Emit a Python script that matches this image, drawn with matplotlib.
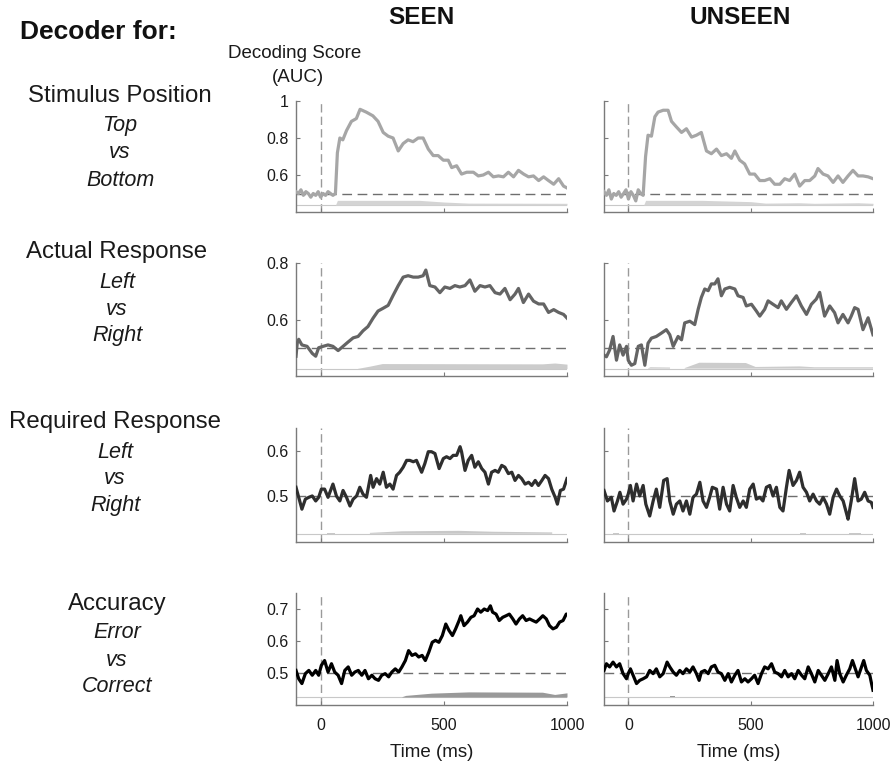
import numpy as np
import matplotlib
matplotlib.use("Agg")
import matplotlib.pyplot as plt

plt.rcParams['font.family'] = ['Liberation Sans', 'DejaVu Sans']

# ---------------- data ----------------
stim_seen_t = [-100,-90,-80,-70,-60,-50,-40,-30,-20,-10,0,10,20,30,40,50,60,68,78,
               90,105,125,145,160,185,212,233,254,274,294,315,335,355,375,396,416,437,457,477,498,518,532,552,572,593,620,640,660,681,701,722,742,762,783,803,824,844,864,885,905,925,946,966,986,1000]
stim_seen_auc = [0.51,0.50,0.52,0.49,0.51,0.50,0.48,0.50,0.49,0.51,0.48,0.50,0.49,0.51,0.50,0.49,0.50,0.72,0.80,
                 0.79,0.84,0.89,0.905,0.955,0.94,0.92,0.89,0.83,0.81,0.80,0.73,0.77,0.79,0.78,0.80,0.80,0.74,0.705,0.705,0.68,0.68,0.64,0.65,0.605,0.615,0.615,0.595,0.60,0.615,0.59,0.595,0.59,0.615,0.59,0.625,0.605,0.59,0.595,0.57,0.59,0.57,0.55,0.58,0.54,0.53]

stim_unseen_t = [-100,-90,-80,-70,-60,-50,-40,-30,-20,-10,0,10,20,30,40,50,60,
                 70,80,94,108,121,142,162,176,196,217,237,258,278,298,319,339,360,380,401,421,435,455,475,496,516,537,557,578,598,619,639,659,680,700,721,741,762,775,796,816,837,857,877,898,918,939,959,980,1000]
stim_unseen_auc = [0.51,0.49,0.52,0.47,0.50,0.49,0.51,0.48,0.50,0.52,0.47,0.51,0.49,0.46,0.52,0.50,0.49,
                   0.70,0.815,0.81,0.915,0.94,0.95,0.95,0.89,0.86,0.83,0.85,0.805,0.815,0.83,0.73,0.715,0.74,0.705,0.715,0.69,0.73,0.68,0.66,0.605,0.605,0.57,0.57,0.58,0.55,0.55,0.58,0.57,0.605,0.54,0.57,0.57,0.595,0.635,0.605,0.595,0.56,0.595,0.56,0.595,0.625,0.595,0.595,0.59,0.58]

actual_seen_t = [-100,-95,-89,-76,-55,-34,-20,-8,10,30,50,71,91,111,132,152,172,192,213,233,254,274,294,315,335,355,376,396,416,427,443,464,484,504,525,545,565,586,606,626,647,667,687,708,728,748,769,789,803,823,844,864,885,905,925,946,966,986,1000]
actual_seen_auc = [0.47,0.516,0.53,0.51,0.505,0.48,0.47,0.50,0.505,0.51,0.505,0.49,0.505,0.52,0.535,0.54,0.56,0.575,0.605,0.63,0.64,0.65,0.685,0.72,0.75,0.755,0.75,0.75,0.755,0.775,0.72,0.715,0.695,0.715,0.71,0.72,0.715,0.72,0.74,0.70,0.72,0.715,0.72,0.695,0.69,0.71,0.67,0.69,0.71,0.66,0.69,0.665,0.655,0.655,0.625,0.635,0.625,0.618,0.605]

actual_unseen_t = [-100,-90,-77,-63,-49,-36,-22,-8,-1,12,26,40,53,67,80,94,114,135,155,169,183,203,217,230,251,271,285,298,312,326,339,353,366,380,394,414,435,448,469,482,503,523,537,557,571,591,612,625,646,666,687,707,728,748,768,782,802,823,843,857,877,898,911,925,939,959,980,1000]
actual_unseen_auc = [0.474,0.468,0.492,0.54,0.456,0.51,0.474,0.505,0.456,0.438,0.444,0.505,0.51,0.438,0.516,0.534,0.54,0.552,0.564,0.546,0.505,0.54,0.528,0.588,0.594,0.582,0.636,0.678,0.708,0.702,0.726,0.726,0.744,0.684,0.708,0.714,0.708,0.684,0.678,0.648,0.654,0.63,0.612,0.636,0.666,0.654,0.642,0.666,0.636,0.66,0.684,0.648,0.618,0.654,0.672,0.696,0.612,0.648,0.624,0.588,0.618,0.588,0.612,0.642,0.636,0.564,0.606,0.546]

required_seen_t = [-100,-89,-76,-62,-48,-34,-20,-8,3,16,30,50,64,78,91,105,119,132,146,159,172,186,203,213,227,240,254,267,281,294,308,321,335,349,362,376,389,410,423,437,450,464,481,498,511,525,538,552,566,572,586,599,613,626,640,654,667,681,694,708,721,735,748,762,776,789,803,816,830,844,857,871,884,898,911,925,938,952,961,973,986,1000]
required_seen_auc = [0.52,0.498,0.472,0.494,0.498,0.501,0.49,0.498,0.516,0.516,0.498,0.527,0.501,0.49,0.513,0.498,0.479,0.494,0.501,0.52,0.505,0.498,0.546,0.52,0.539,0.527,0.553,0.52,0.527,0.516,0.546,0.553,0.564,0.579,0.579,0.576,0.579,0.553,0.572,0.598,0.598,0.594,0.561,0.583,0.587,0.583,0.59,0.59,0.609,0.598,0.557,0.579,0.59,0.564,0.576,0.561,0.553,0.527,0.553,0.557,0.553,0.568,0.564,0.55,0.553,0.535,0.546,0.539,0.527,0.531,0.524,0.535,0.524,0.535,0.546,0.539,0.516,0.498,0.483,0.513,0.516,0.539]

required_unseen_t = [-100,-86,-70,-59,-45,-35,-22,-8,-1,8,19,33,46,60,71,87,101,114,128,144,158,169,183,196,210,223,237,251,264,278,292,305,319,332,343,360,373,387,401,414,428,441,455,469,482,496,510,523,537,550,564,578,591,605,619,632,646,657,673,687,700,714,728,741,755,769,782,796,810,823,837,851,864,878,891,898,911,925,939,952,966,980,993,1000]
required_unseen_auc = [0.513,0.49,0.498,0.468,0.49,0.509,0.483,0.494,0.505,0.524,0.49,0.527,0.501,0.524,0.483,0.457,0.49,0.516,0.476,0.535,0.539,0.49,0.461,0.483,0.49,0.468,0.49,0.461,0.498,0.505,0.531,0.49,0.476,0.498,0.52,0.516,0.472,0.52,0.483,0.468,0.524,0.498,0.476,0.49,0.476,0.516,0.527,0.494,0.498,0.49,0.52,0.524,0.501,0.52,0.476,0.468,0.52,0.557,0.524,0.535,0.553,0.52,0.509,0.49,0.505,0.49,0.483,0.498,0.483,0.461,0.498,0.516,0.501,0.49,0.464,0.45,0.49,0.539,0.49,0.494,0.509,0.49,0.487,0.476]

accuracy_seen_t = [-100,-89,-76,-62,-48,-34,-20,-8,3,16,30,44,57,71,85,98,112,126,139,153,167,180,194,208,221,235,248,262,276,289,303,317,330,344,357,371,385,398,412,425,439,453,466,480,494,508,521,535,548,562,569,582,596,610,623,637,650,664,678,689,698,712,725,739,753,766,780,793,807,820,834,848,861,875,889,902,916,929,943,957,970,984,997,1000]
accuracy_seen_auc = [0.508,0.482,0.467,0.498,0.508,0.493,0.508,0.493,0.524,0.539,0.503,0.529,0.503,0.493,0.467,0.508,0.519,0.493,0.503,0.508,0.493,0.508,0.482,0.493,0.482,0.477,0.493,0.498,0.488,0.503,0.513,0.503,0.519,0.539,0.57,0.555,0.56,0.55,0.555,0.539,0.565,0.596,0.602,0.596,0.617,0.653,0.633,0.617,0.638,0.664,0.679,0.648,0.659,0.674,0.679,0.70,0.69,0.70,0.695,0.71,0.69,0.684,0.664,0.674,0.679,0.684,0.669,0.653,0.669,0.679,0.664,0.669,0.664,0.659,0.669,0.679,0.669,0.648,0.638,0.643,0.659,0.664,0.684,0.684]

accuracy_unseen_t = [-100,-90,-77,-63,-49,-36,-22,-8,-1,8,19,33,46,60,74,87,101,114,128,142,158,169,183,196,210,223,237,251,264,278,289,298,312,326,339,353,366,380,394,408,421,435,448,462,476,489,503,516,530,544,557,571,585,598,612,626,639,653,667,680,694,708,721,735,748,762,776,789,803,817,830,844,853,864,878,891,905,916,925,939,953,962,973,987,994,1000]
accuracy_unseen_auc = [0.508,0.529,0.519,0.534,0.519,0.529,0.498,0.482,0.498,0.513,0.493,0.467,0.477,0.482,0.488,0.508,0.498,0.513,0.488,0.498,0.534,0.519,0.503,0.493,0.508,0.498,0.513,0.503,0.519,0.498,0.477,0.503,0.508,0.498,0.519,0.524,0.503,0.498,0.477,0.498,0.472,0.493,0.508,0.472,0.482,0.472,0.482,0.493,0.467,0.498,0.519,0.513,0.529,0.503,0.498,0.488,0.508,0.488,0.498,0.482,0.508,0.493,0.482,0.519,0.498,0.472,0.508,0.493,0.477,0.498,0.519,0.477,0.539,0.498,0.472,0.493,0.513,0.539,0.519,0.488,0.519,0.539,0.508,0.493,0.467,0.446]

nan = float('nan')
# significance bands: baseline and top of band
sig_base = [0.437, 0.426, 0.418, 0.425]
stim_seen_sig_t = [60, 68, 400, 500, 600, 1000]
stim_seen_sig = [0.437, 0.463, 0.463, 0.454, 0.448, 0.447]
stim_unseen_sig_t = [62, 70, 300, 500, 560, 700, 760, 940, 1000]
stim_unseen_sig = [0.437, 0.463, 0.463, 0.456, 0.448, 0.450, 0.447, 0.450, 0.447]
actual_seen_sig_t = [150, 200, 250, 900, 950, 1000]
actual_seen_sig = [0.427, 0.435, 0.444, 0.443, 0.446, 0.442]
actual_unseen_sig_t = [80, 90, 170, 180, 220, 230, 290, 480, 520, 700, 760, 1000]
actual_unseen_sig = [0.427, 0.431, 0.430, nan, nan, 0.428, 0.447, 0.446, 0.432, 0.434, 0.431, 0.431]
required_seen_sig_t = [25, 60, 65, 195, 200, 330, 560, 700, 940]
required_seen_sig = [0.4205, 0.4205, nan, nan, 0.420, 0.4235, 0.4245, 0.4225, 0.421]
required_unseen_sig_t = [-65, -40, -35, 695, 700, 725, 730, 895, 900, 950]
required_unseen_sig = [0.4205, 0.4205, nan, nan, 0.4205, 0.4205, nan, nan, 0.4205, 0.4205]
accuracy_seen_sig_t = [330, 345, 450, 600, 900, 950, 1000]
accuracy_seen_sig = [0.426, 0.430, 0.437, 0.441, 0.440, 0.433, 0.438]
accuracy_unseen_sig_t = [170, 190]
accuracy_unseen_sig = [0.4275, 0.4275]

row_titles = ["Stimulus Position", "Actual Response", "Required Response", "Accuracy"]
row_contrasts = [("Top", "vs", "Bottom"), ("Left", "vs", "Right"),
                 ("Left", "vs", "Right"), ("Error", "vs", "Correct")]
row_ylims = [(0.4, 1.0), (0.4, 0.8), (0.4, 0.65), (0.4, 0.75)]
row_yticks = [[0.6, 0.8, 1.0], [0.6, 0.8], [0.5, 0.6], [0.5, 0.6, 0.7]]
row_yticklabels = [["0.6", "0.8", "1"], ["0.6", "0.8"], ["0.5", "0.6"], ["0.5", "0.6", "0.7"]]
x_ticks = [0, 500, 1000]

series = [
    [(stim_seen_t, stim_seen_auc, stim_seen_sig_t, stim_seen_sig),
     (stim_unseen_t, stim_unseen_auc, stim_unseen_sig_t, stim_unseen_sig)],
    [(actual_seen_t, actual_seen_auc, actual_seen_sig_t, actual_seen_sig),
     (actual_unseen_t, actual_unseen_auc, actual_unseen_sig_t, actual_unseen_sig)],
    [(required_seen_t, required_seen_auc, required_seen_sig_t, required_seen_sig),
     (required_unseen_t, required_unseen_auc, required_unseen_sig_t, required_unseen_sig)],
    [(accuracy_seen_t, accuracy_seen_auc, accuracy_seen_sig_t, accuracy_seen_sig),
     (accuracy_unseen_t, accuracy_unseen_auc, accuracy_unseen_sig_t, accuracy_unseen_sig)],
]

# ---------------- style / layout ----------------
W, H = 896, 763
line_colors = ['#a6a6a6', '#646464', '#2e2e2e', '#000000']
fill_colors = ['#d4d4d4', '#cccccc', '#c8c8c8', '#999999']
col_px = [(296, 567), (604, 873)]
row_px = [(101, 212), (263, 376), (428, 542), (593, 705)]
spine_c = '#7a7a7a'

fig = plt.figure(figsize=(W / 100, H / 100), dpi=100)

def fx(px):
    return px / W

def fy(py):
    return 1 - py / H

for r in range(4):
    top, bot = row_px[r]
    for c in range(2):
        l, rr = col_px[c]
        ax = fig.add_axes([fx(l), fy(bot), (rr - l) / W, (bot - top) / H])
        t, v, st, sv = series[r][c]
        n = min(len(t), len(v))
        ax.set_xlim(-100, 1000)
        ax.set_ylim(*row_ylims[r])
        ax.axhline(0.5, color='#6e6e6e', lw=1.0, ls=(0, (7, 4)), zorder=1)
        ax.axvline(0, color='#9a9a9a', lw=1.0, ls=(0, (6, 3)), zorder=1)
        ax.axhline(sig_base[r], color='#c8c8c8', lw=0.8, zorder=1)
        ax.fill_between(st, sig_base[r], sv, color=fill_colors[r], lw=0, zorder=2)
        ax.plot(t[:n], v[:n], color=line_colors[r], lw=2.3, zorder=3)
        for s in ['top', 'right']:
            ax.spines[s].set_visible(False)
        for s in ['left', 'bottom']:
            ax.spines[s].set_color(spine_c)
            ax.spines[s].set_linewidth(1.0)
        ax.set_xticks(x_ticks)
        ax.set_yticks(row_yticks[r])
        ax.tick_params(direction='in', length=3, width=0.8, color=spine_c,
                       labelsize=11.5, labelcolor='#1a1a1a', pad=5)
        if c == 0:
            ax.set_yticklabels(row_yticklabels[r])
        else:
            ax.set_yticklabels([])
        if r == 3:
            ax.set_xticklabels([str(x) for x in x_ticks])
            ax.tick_params(axis='x', pad=9)
            ax.set_xlabel("Time (ms)", fontsize=13.5, labelpad=8, color='#1a1a1a')
        else:
            ax.set_xticklabels([])

# row labels
row_label_y = [(96, 126, 153, 180), (252, 282, 309, 336), (422, 452, 479, 506), (604, 633, 660, 687)]
row_label_x = [120, 117, 115, 117]
for r in range(4):
    ys = row_label_y[r]
    fig.text(fx(row_label_x[r]), fy(ys[0]), row_titles[r], fontsize=17.3,
             ha='center', va='center', color='#1a1a1a')
    for k, word in enumerate(row_contrasts[r]):
        fig.text(fx(row_label_x[r]), fy(ys[k + 1]), word, fontsize=15.5,
                 style='italic', ha='center', va='center', color='#1a1a1a')

fig.text(fx(20), fy(32), "Decoder for:", fontsize=19, fontweight='bold',
         ha='left', va='center', color='#111111')
fig.text(fx(421), fy(17), "SEEN", fontsize=17.5, fontweight='bold',
         ha='center', va='center', color='#111111')
fig.text(fx(740), fy(17), "UNSEEN", fontsize=17.5, fontweight='bold',
         ha='center', va='center', color='#111111')
fig.text(fx(295), fy(54), "Decoding Score", fontsize=13.5, ha='center',
         va='center', color='#1a1a1a')
fig.text(fx(298), fy(78), "(AUC)", fontsize=13.5, ha='center', va='center',
         color='#1a1a1a')

fig.savefig("out.png", dpi=100, facecolor='white')
